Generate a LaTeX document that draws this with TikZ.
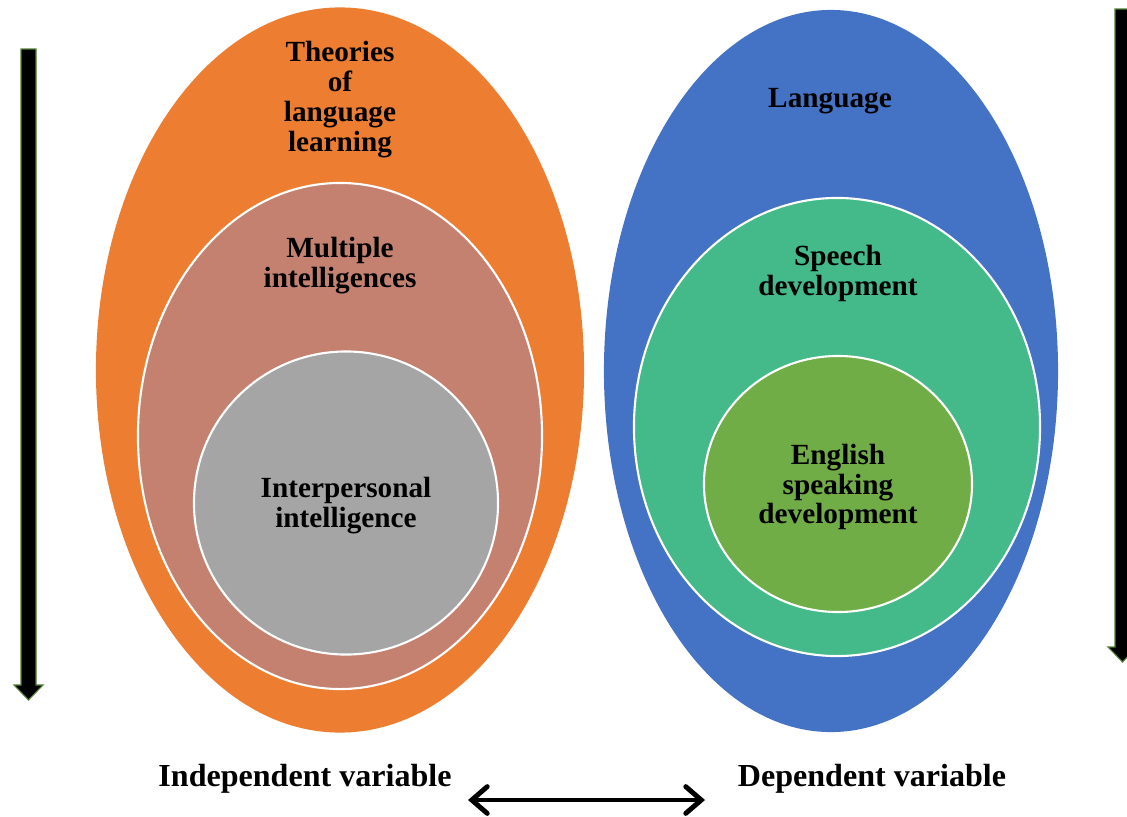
\documentclass[tikz,border=0pt]{standalone}
\usepackage{fontspec}
\setmainfont{Liberation Serif}
\usepackage{xcolor}
\definecolor{colorOuterL}{HTML}{ED7D31}
\definecolor{colorMidL}{HTML}{C58170}
\definecolor{colorInnerL}{HTML}{A5A5A5}
\definecolor{colorOuterR}{HTML}{4472C4}
\definecolor{colorMidR}{HTML}{44BA8A}
\definecolor{colorInnerR}{HTML}{70AD47}
\definecolor{colorRim}{HTML}{548235}
\usetikzlibrary{arrows.meta, shapes.geometric, positioning}
\tikzset{
  blob/.style={ellipse, inner sep=0pt, draw=white, line width=1.5pt},
  blobsize/.style 2 args={minimum width={#1*0.7113pt}, minimum height={#2*0.7113pt}},
  lbl/.style={align=center, font=\bfseries\fontsize{20.8}{21.3}\selectfont, text=black},
  varlbl/.style={font=\bfseries\fontsize{22.8}{24}\selectfont, text=black},
  blockarrow/.style={fill=black, draw=colorRim, line width=0.8pt}
}

\begin{document}
\begin{tikzpicture}[x=0.025cm, y=-0.025cm]
\useasboundingbox (0,0) rectangle (1127,817);
% left side
\node[blob, draw=none, fill=colorOuterL, blobsize={488}{725}] (theories) at (340,370) {};
\node[blob, fill=colorMidL, blobsize={404}{506}] (multi) at (340,436) {};
\node[blob, fill=colorInnerL, blobsize={304}{303}] (inter) at (346,503) {};
% right side
\node[blob, draw=none, fill=colorOuterR, blobsize={454}{722}] (lang) at (831,371) {};
\node[blob, fill=colorMidR, blobsize={406}{458}] (speech) at (837,427) {};
\node[blob, fill=colorInnerR, blobsize={268}{256}] (english) at (838,484) {};
% labels
\node[lbl] (theoriesLbl) at (340,100) {Theories\\of\\language\\learning};
\node[lbl] (multiLbl) at (340,266) {Multiple\\intelligences};
\node[lbl] (interLbl) at (346,506) {Interpersonal\\intelligence};
\node[lbl] (langLbl) at (830,101) {Language};
\node[lbl] (speechLbl) at (838,273) {Speech\\development};
\node[lbl] (englishLbl) at (838,487) {English\\speaking\\development};
\node[varlbl] (indep) at (305,779) {Independent variable};
\node[varlbl] (dep) at (872,779) {Dependent variable};
% block arrows
\draw[blockarrow] (21,49) -- (36,49) -- (36,685) -- (43,685) -- (28.5,700) -- (14,685) -- (21,685) -- cycle;
\draw[blockarrow] (1115,9) -- (1130,9) -- (1130,647) -- (1137,647) -- (1122.5,662) -- (1108,647) -- (1115,647) -- cycle;
% double arrow
\coordinate (la) at (468,800);
\coordinate (ra) at (705,800);
\draw[{Straight Barb[length=11pt, width=19pt, line cap=round]}-{Straight Barb[length=11pt, width=19pt, line cap=round]}, line width=3.5pt] (la) -- (ra);
\end{tikzpicture}
\end{document}
